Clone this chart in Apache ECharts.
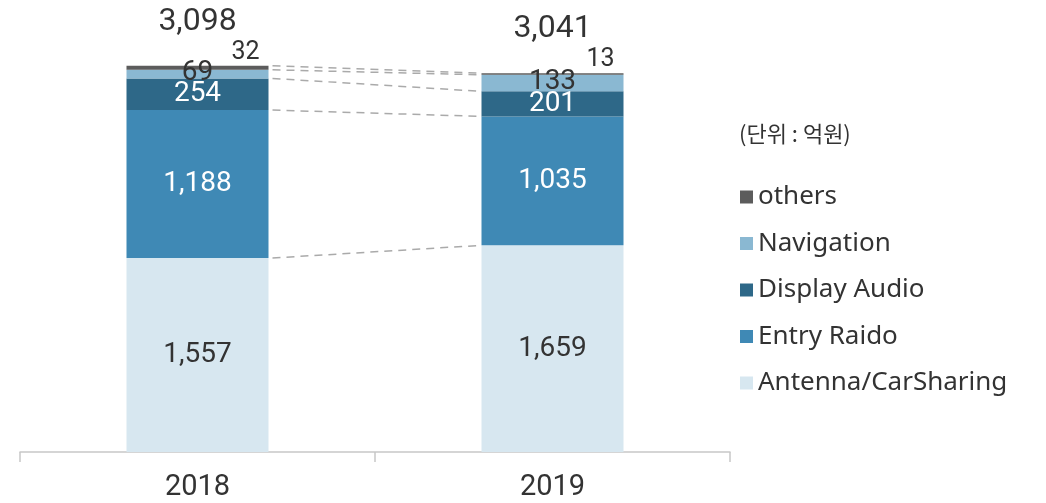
<!DOCTYPE html>
<html><head><meta charset="utf-8">
<script src="https://cdn.jsdelivr.net/npm/echarts@6/dist/echarts.min.js"></script>
<style>html,body{margin:0;padding:0;background:#fff}#c{width:1046px;height:503px}</style>
</head><body><div id="c"></div>
<script>
const categories = ['2018', '2019'];
const antenna = [1557, 1659];
const entryRadio = [1188, 1035];
const displayAudio = [254, 201];
const navigation = [69, 133];
const others = [32, 13];
const totals = [3098, 3041];
const seriesNames = ['Antenna/CarSharing', 'Entry Raido', 'Display Audio', 'Navigation', 'others'];
const legendOrder = ['others', 'Navigation', 'Display Audio', 'Entry Raido', 'Antenna/CarSharing'];
const colors = ['#d7e7f0', '#3f89b5', '#2e6888', '#8ab8d2', '#5c5c5c'];

const stacks = [antenna, entryRadio, displayAudio, navigation, others];
// connector levels: cumulative tops of each segment
const connectors = [];
let c0 = 0, c1 = 0;
stacks.forEach(s => { c0 += s[0]; c1 += s[1]; connectors.push([0, c0, c1]); });

const FONT = 'Roboto';
const fmt = v => v.toLocaleString('en-US');

const chart = echarts.init(document.getElementById('c'));
const barSeries = stacks.map((data, i) => {
  const s = {
    name: seriesNames[i], type: 'bar', stack: 'a', barWidth: '40%',
    itemStyle: { color: colors[i] },
    data: data,
    label: {
      show: true, position: 'inside', fontFamily: FONT, fontSize: 28,
      color: (i === 1 || i === 2) ? '#fff' : '#333',
      formatter: p => fmt(p.value)
    },
    z: 3
  };
  if (i === 4) {
    s.label = { show: true, position: 'top', distance: 1, offset: [48, 0], fontFamily: FONT, fontSize: 25, color: '#333' };
  }
  if (i === 3) {
    s.label.offset = [0, -1];
  }
  return s;
});

chart.setOption({
  animation: false,
  color: colors,
  grid: { left: 20, right: 316, top: 16, bottom: 51 },
  xAxis: {
    type: 'category', data: categories,
    axisLine: { lineStyle: { color: '#c8c8c8', width: 1.5 } },
    axisTick: { show: true, length: 10, lineStyle: { color: '#c8c8c8', width: 1.5 } },
    axisLabel: { fontFamily: FONT, fontSize: 29, color: '#333', margin: 21 }
  },
  yAxis: { type: 'value', min: 0, max: 3500, show: false, splitLine: { show: false } },
  legend: {
    orient: 'vertical', left: 735, top: 178, itemGap: 18.5, itemWidth: 13, itemHeight: 13,
    icon: 'rect', data: legendOrder,
    textStyle: { fontFamily: 'Noto Sans', fontSize: 26, color: '#333', lineHeight: 28, padding: [0, 0, 0, 0] }
  },
  graphic: [{
    type: 'text', left: 739, top: 123,
    style: { text: '(단위 : 억원)', font: '22px "Noto Sans CJK KR"', fill: '#333' }
  }],
  series: barSeries.concat([
    {
      type: 'scatter', data: totals, symbolSize: 0, z: 5,
      label: { show: true, position: 'top', distance: 28, fontFamily: FONT, fontSize: 32, fontWeight: 'normal', color: '#000', formatter: p => fmt(p.value) },
      tooltip: { show: false }
    },
    {
      type: 'custom', data: connectors, z: 1,
      renderItem: (params, api) => {
        const p1 = api.coord([0, api.value(1)]);
        const p2 = api.coord([1, api.value(2)]);
        const half = api.size([1, 0])[0] * 0.4 / 2;
        return {
          type: 'line',
          shape: { x1: p1[0] + half + 4, y1: p1[1], x2: p2[0] - half, y2: p2[1] },
          style: { stroke: '#aaaaaa', lineWidth: 1.5, lineDash: [8, 6] }
        };
      }
    }
  ])
});
</script></body></html>
